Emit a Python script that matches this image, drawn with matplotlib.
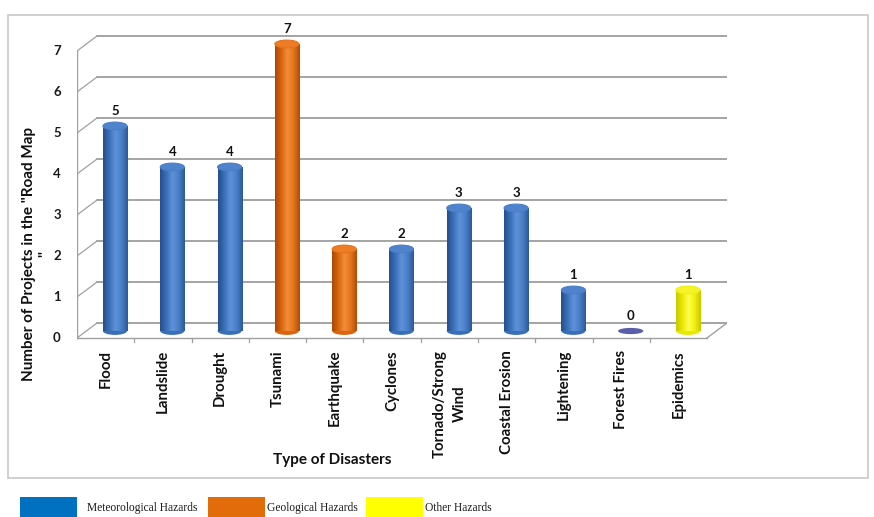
import numpy as np
import matplotlib
matplotlib.use("Agg")
import matplotlib.pyplot as plt
from matplotlib.patches import Ellipse, Rectangle
from matplotlib.colors import LinearSegmentedColormap

plt.rcParams['font.family'] = ['Lato', 'DejaVu Sans']

# ---- data ----
categories = ["Flood", "Landslide", "Drought", "Tsunami", "Earthquake", "Cyclones",
              "Tornado/Strong\nWind", "Coastal Erosion", "Lightening", "Forest Fires", "Epidemics"]
projects = [5, 4, 4, 7, 2, 2, 3, 3, 1, 0, 1]
hazard_group = ["met", "met", "met", "geo", "geo", "met", "met", "met", "met", "met", "other"]
y_ticks = [0, 1, 2, 3, 4, 5, 6, 7]
legend_labels = ["Meteorological Hazards", "Geological Hazards", "Other Hazards"]
legend_groups = ["met", "geo", "other"]

# ---- styling ----
W, H = 874, 517
legend_colors = {"met": "#0070C0", "geo": "#E26B0A", "other": "#FFFF00"}
shade = {
    "met": ["#24508C", "#3A6FB8", "#5E93DA", "#4A7FC8", "#2B5A98"],
    "geo": ["#A84806", "#D9650E", "#F58E3A", "#E4741C", "#B04C08"],
    "other": ["#C8C800", "#E8E800", "#FFFF50", "#F0F010", "#C8C800"],
}
top_col = {"met": "#4F84CC", "geo": "#EE7C24", "other": "#F4F428"}
grid_col = "#8C8C8C"

fig = plt.figure(figsize=(W / 100, H / 100), dpi=100)
fig.patch.set_facecolor("white")


def fx(px):
    return px / W


def fy(py):
    return 1 - py / H


# chart area frame
fig.add_artist(Rectangle((fx(8), fy(478)), fx(860), 463 / H, transform=fig.transFigure,
                         facecolor="white", edgecolor="#C8C8C8", lw=1.2, zorder=0))

ax = fig.add_axes([fx(77), fy(345), 650 / W, 325 / H])
ax.set_axis_off()
ax.set_xlim(-0.663, 10.681)
ax.set_ylim(-0.341, 7.585)

front_off = -0.17   # front edge of the floor / value axis
back_off = 0.195    # back wall
x_front = -0.663
x_back = -0.314
x_right_front = 10.332
x_right_back = 10.68

# back wall gridlines and slanted axis ticks
for v in y_ticks:
    ax.plot([x_back, x_right_back], [v + back_off, v + back_off], color=grid_col, lw=1.1, zorder=1)
    ax.plot([x_front, x_back], [v + front_off, v + back_off], color="#A0A0A0", lw=0.9, zorder=1)
    ax.plot([x_front - 0.09, x_front], [v + front_off, v + front_off], color="#A0A0A0", lw=0.9, zorder=1)
    ax.text(x_front - 0.35, v + front_off, str(v), ha="center", va="center",
            fontsize=9.5, fontweight="bold", color="#1A1A1A", clip_on=False)

# front value axis and floor edge
ax.plot([x_front, x_front], [front_off, y_ticks[-1] + front_off], color="#A0A0A0", lw=1.0, zorder=1)
ax.plot([x_front, x_right_front], [front_off, front_off], color="#A0A0A0", lw=1.0, zorder=1)
ax.plot([x_right_front, x_right_back], [front_off, back_off], color="#A0A0A0", lw=1.0, zorder=1)
for k in range(1, len(categories)):
    ax.plot([x_front + k, x_front + k], [front_off, front_off - 0.1], color="#A0A0A0", lw=0.9)

# cylinders
xpos = np.arange(len(categories))
bw = 0.42
eh = 0.19
bars = ax.bar(xpos, projects, width=bw, color=[legend_colors[g] for g in hazard_group],
              edgecolor="none", zorder=3)
grad = np.linspace(0, 1, 64).reshape(1, -1)
for b, v, g, x in zip(bars, projects, hazard_group, xpos):
    if v > 0:
        cmap = LinearSegmentedColormap.from_list(g, shade[g])
        im = ax.imshow(grad, extent=(x - bw / 2, x + bw / 2, 0, v), aspect="auto",
                       cmap=cmap, zorder=3.1, interpolation="bicubic")
        im.set_clip_path(b)
        ax.add_patch(Ellipse((x, 0), bw, eh, facecolor=shade[g][1], edgecolor="none", zorder=2.9))
        ax.add_patch(Ellipse((x, v), bw, eh, facecolor=top_col[g], edgecolor=shade[g][3],
                             lw=0.8, zorder=3.3))
    else:
        ax.add_patch(Ellipse((x, v), bw * 1.05, eh * 0.8, facecolor="#5A5EA8",
                             edgecolor="none", zorder=3.3))
    ax.text(x, v + 0.36, str(v), ha="center", va="center", fontsize=9.5,
            fontweight="bold", color="#111111", zorder=4, clip_on=False)

# category labels
for k, name in enumerate(categories):
    ax.text(x_front + k + 0.5, -0.46, name, rotation=90, ha="center", va="top",
            multialignment="center", fontsize=10.8, fontweight="bold", color="#111111",
            clip_on=False, linespacing=1.55)

# axis titles
fig.text(fx(37), fy(254), 'Number of Projects in the "Road Map\n"', rotation=90,
         ha="center", va="center", multialignment="center", fontsize=11,
         fontweight="bold", color="#111111")
fig.text(fx(332), fy(460), "Type of Disasters", ha="center", va="center",
         fontsize=11, fontweight="bold", color="#111111")

# legend strip below the chart
legend_x = [20, 208, 366]
text_x = [87, 267, 425]
for lx, tx, lab, g in zip(legend_x, text_x, legend_labels, legend_groups):
    fig.add_artist(Rectangle((fx(lx), fy(517)), 57 / W, 20 / H, transform=fig.transFigure,
                             facecolor=legend_colors[g], edgecolor="none"))
    fig.text(fx(tx), fy(508), lab, ha="left", va="center", fontsize=8.3,
             family="Liberation Serif", color="#1A1A1A")

fig.savefig("out.png", dpi=100)
